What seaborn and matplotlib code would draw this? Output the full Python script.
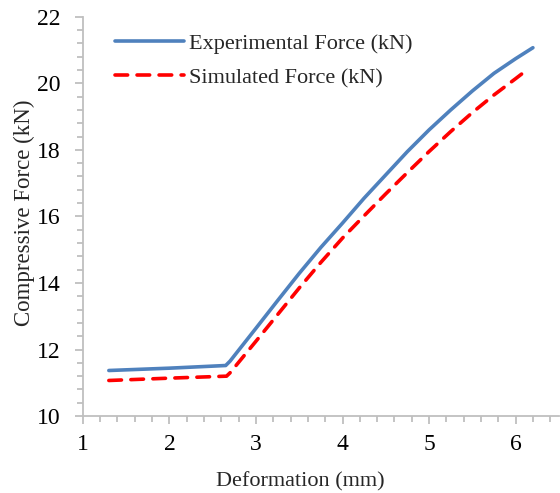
import numpy as np
import pandas as pd
import seaborn as sns
import matplotlib.pyplot as plt
from matplotlib.ticker import MultipleLocator

exp_x = [1.3, 2.0, 2.65, 2.7, 3.0, 3.25, 3.5, 3.75, 4.0, 4.25, 4.5, 4.75,
         5.0, 5.25, 5.5, 5.75, 6.0, 6.2]
exp_y = [11.37, 11.44, 11.52, 11.65, 12.64, 13.47, 14.29, 15.07, 15.8, 16.55,
         17.25, 17.95, 18.6, 19.2, 19.77, 20.3, 20.74, 21.07]
sim_x = [1.3, 2.0, 2.66, 2.7, 3.0, 3.25, 3.5, 3.75, 4.0, 4.25, 4.5, 4.75,
         5.0, 5.25, 5.5, 5.75, 6.0, 6.12]
sim_y = [11.07, 11.14, 11.2, 11.3, 12.25, 13.05, 13.85, 14.62, 15.35, 16.02,
         16.68, 17.32, 17.95, 18.55, 19.12, 19.65, 20.14, 20.38]

exp = pd.DataFrame({"x": exp_x, "y": exp_y})
sim = pd.DataFrame({"x": sim_x, "y": sim_y})

sns.set_style("ticks")
plt.rcParams["font.family"] = ["Liberation Serif", "DejaVu Serif"]
plt.rcParams["font.size"] = 16

fig = plt.figure(figsize=(5.6, 4.93), dpi=100)
ax = fig.add_axes([0.148, 0.156, 0.85, 0.81])

sns.lineplot(data=exp, x="x", y="y", ax=ax, color="#4F81BD", lw=2.6,
             label="Experimental Force (kN)", sort=False)
sns.lineplot(data=sim, x="x", y="y", ax=ax, color="#FF0000", lw=2.6,
             label="Simulated Force (kN)", sort=False)
ax.lines[1].set_dashes([3.5, 2.6])
ax.lines[1].set_dash_capstyle("round")
ax.lines[0].set_solid_capstyle("round")
ax.lines[0].set_solid_joinstyle("round")

ax.set_xlim(1, 6.5)
ax.set_ylim(10, 22)
ax.xaxis.set_major_locator(MultipleLocator(1))
ax.xaxis.set_minor_locator(MultipleLocator(0.2))
ax.yaxis.set_major_locator(MultipleLocator(2))
ax.yaxis.set_minor_locator(MultipleLocator(0.4))

gray = "#BFBFBF"
sns.despine(ax=ax)
for s in ["left", "bottom"]:
    ax.spines[s].set_color(gray)
    ax.spines[s].set_linewidth(1.3)
ax.tick_params(which="major", length=6, width=1.3, color=gray, labelsize=17,
               labelcolor="black")
ax.tick_params(which="minor", length=4, width=1.3, color=gray)
ax.tick_params(axis="x", pad=7)
ax.tick_params(axis="y", pad=10)

ax.set_xlabel("Deformation (mm)", fontsize=16)
ax.set_ylabel("Compressive Force (kN)", fontsize=16.5)
ax.xaxis.set_label_coords(0.456, -0.14)
ax.yaxis.set_label_coords(-0.101, 0.51)

leg = ax.legend(loc="upper left", frameon=False, fontsize=16, handlelength=3.1,
                handletextpad=0.22, labelspacing=0.6,
                bbox_to_anchor=(0.025, 1.008))

fig.savefig("out.png", dpi=100)
